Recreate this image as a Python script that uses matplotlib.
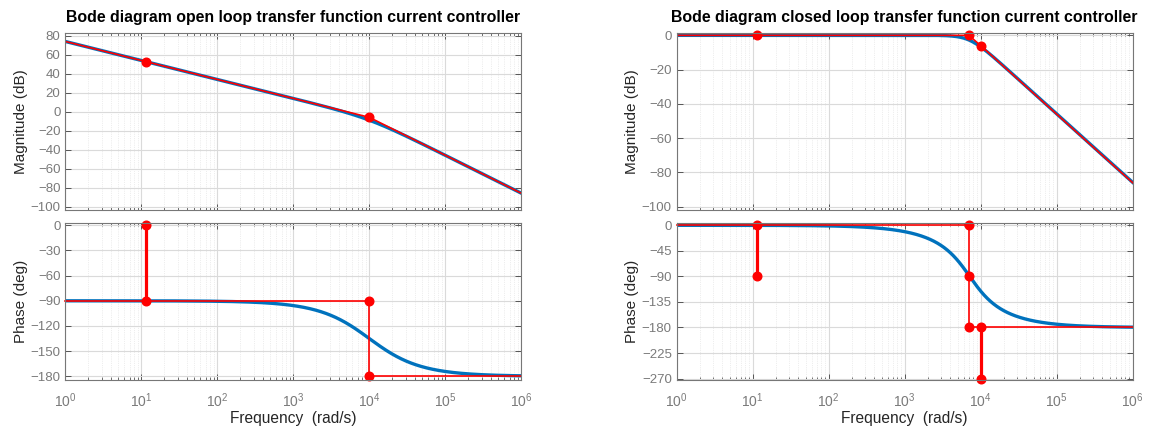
import numpy as np
import matplotlib
matplotlib.use("Agg")
import matplotlib.pyplot as plt
from matplotlib.ticker import (LogLocator, NullFormatter, FixedLocator,
                               LogFormatterSciNotation)

plt.rcParams['font.family'] = ['Liberation Sans', 'DejaVu Sans']

# ---------------- data ----------------
# transfer functions (coefficients of s, highest power first)
open_num = [5129.0]                 # gain ~74.2 dB at 1 rad/s
open_den = [1.0 / 1e4, 1.0, 0.0]    # integrator + pole at 1e4 rad/s
closed_num = [5129.0]
closed_den = [1.0 / 1e4, 1.0, 5129.0]

w_range = [1e0, 1e6]
freq_ticks = [1e0, 1e1, 1e2, 1e3, 1e4, 1e5, 1e6]

# open loop asymptotes (red)
open_mag_asym_w = [1.0, 11.4, 1e4, 1e6]
open_mag_asym_db = [74.2, 53.0, -5.8, -85.8]
open_mag_dot_w = [11.4, 1e4]
open_mag_dot_db = [53.0, -5.8]

open_ph_asym_w = [1.0, 11.4, 1e4, 1e4, 1e6]
open_ph_asym_deg = [-90, -90, -90, -180, -180]
open_ph_thick_w = [[11.4, 11.4]]
open_ph_thick_deg = [[0, -90]]
open_ph_dot_w = [11.4, 11.4, 1e4, 1e4]
open_ph_dot_deg = [0, -90, -90, -180]

# closed loop asymptotes (red)
closed_mag_asym_w = [1.0, 7000.0, 1e4, 1e6]
closed_mag_asym_db = [0.0, 0.0, -6.0, -86.0]
closed_mag_dot_w = [11.4, 7000.0, 1e4]
closed_mag_dot_db = [0.0, 0.0, -6.0]

closed_ph_asym_w = [1.0, 7000.0, 7000.0, 1e6]
closed_ph_asym_deg = [0, 0, -180, -180]
closed_ph_thick_w = [[11.4, 11.4], [1e4, 1e4]]
closed_ph_thick_deg = [[0, -90], [-180, -270]]
closed_ph_dot_w = [11.4, 11.4, 7000.0, 7000.0, 7000.0, 1e4, 1e4]
closed_ph_dot_deg = [0, -90, 0, -90, -180, -180, -270]

# axis ticks / limits
open_mag_ticks = [-100, -80, -60, -40, -20, 0, 20, 40, 60, 80]
open_ph_ticks = [-180, -150, -120, -90, -60, -30, 0]
closed_mag_ticks = [-100, -80, -60, -40, -20, 0]
closed_ph_ticks = [-270, -225, -180, -135, -90, -45, 0]

titles = ["Bode diagram open loop transfer function current controller",
          "Bode diagram closed loop transfer function current controller"]

# ---------------- computation ----------------
w = np.logspace(0, 6, 2000)
def bode(num, den):
    s = 1j * w
    h = np.polyval(num, s) / np.polyval(den, s)
    return 20 * np.log10(np.abs(h)), np.unwrap(np.angle(h)) * 180 / np.pi

open_db, open_ph = bode(open_num, open_den)
closed_db, closed_ph = bode(closed_num, closed_den)

BLUE = '#0072BD'
RED = '#FF0000'
TICKC = '#7a7a7a'
LABC = '#262626'
MS = 6.2

fig = plt.figure(figsize=(11.49, 4.32), dpi=100)

def style(ax, yticks, ylim, ylabel, xlabels=False):
    ax.set_xscale('log')
    ax.set_xlim(*w_range)
    ax.set_ylim(*ylim)
    ax.yaxis.set_major_locator(FixedLocator(yticks))
    ax.xaxis.set_major_locator(FixedLocator(freq_ticks))
    ax.xaxis.set_minor_locator(LogLocator(base=10, subs=np.arange(2, 10), numticks=100))
    ax.xaxis.set_minor_formatter(NullFormatter())
    if xlabels:
        ax.xaxis.set_major_formatter(LogFormatterSciNotation())
    else:
        ax.xaxis.set_major_formatter(NullFormatter())
    ax.grid(True, which='major', color='#dadada', linewidth=0.8, linestyle='-')
    ax.grid(True, which='minor', axis='x', color='#dedede', linewidth=0.5, linestyle=':')
    ax.set_axisbelow(True)
    ax.tick_params(which='both', direction='in', top=True, right=True,
                   colors='#555555', labelcolor=TICKC, labelsize=9.5)
    ax.tick_params(axis='x', which='major', pad=8, labelsize=10)
    ax.tick_params(which='major', length=4, width=0.7)
    ax.tick_params(which='minor', length=2.5, width=0.6)
    for sp in ax.spines.values():
        sp.set_color('#777777')
        sp.set_linewidth(0.8)
    ax.set_ylabel(ylabel, fontsize=11, color=LABC, labelpad=2)

lefts = [65.3 / 1149, 676.7 / 1149]
width = 456 / 1149
mag_b, mag_h = (432 - 210) / 432, 176.7 / 432
ph_b, ph_h = (432 - 380.3) / 432, 157.0 / 432

# -------- open loop --------
axm = fig.add_axes([lefts[0], mag_b, width, mag_h])
axm.plot(w, open_db, color=BLUE, lw=2.4)
axm.plot(open_mag_asym_w, open_mag_asym_db, color=RED, lw=1.2)
axm.plot(open_mag_dot_w, open_mag_dot_db, 'o', color=RED, ms=MS, clip_on=False)
style(axm, open_mag_ticks, (-103.5, 82.8), 'Magnitude (dB)')
axm.set_title(titles[0], fontsize=11.4, fontweight='bold', pad=8)

axp = fig.add_axes([lefts[0], ph_b, width, ph_h])
axp.plot(w, open_ph, color=BLUE, lw=2.4)
axp.plot(open_ph_asym_w, open_ph_asym_deg, color=RED, lw=1.2, clip_on=False)
for xs, ys in zip(open_ph_thick_w, open_ph_thick_deg):
    axp.plot(xs, ys, color=RED, lw=2.3, clip_on=False)
axp.plot(open_ph_dot_w, open_ph_dot_deg, 'o', color=RED, ms=MS, clip_on=False)
style(axp, open_ph_ticks, (-184.8, 2.4), 'Phase (deg)', xlabels=True)
axp.set_xlabel('Frequency  (rad/s)', fontsize=11.2, color=LABC, labelpad=1)

# -------- closed loop --------
axm2 = fig.add_axes([lefts[1], mag_b, width, mag_h])
axm2.plot(w, closed_db, color=BLUE, lw=2.4)
axm2.plot(closed_mag_asym_w, closed_mag_asym_db, color=RED, lw=1.2)
axm2.plot(closed_mag_dot_w, closed_mag_dot_db, 'o', color=RED, ms=MS, clip_on=False)
style(axm2, closed_mag_ticks, (-101.9, 1.2), 'Magnitude (dB)')
axm2.set_title(titles[1], fontsize=11.4, fontweight='bold', pad=8)

axp2 = fig.add_axes([lefts[1], ph_b, width, ph_h])
axp2.plot(w, closed_ph, color=BLUE, lw=2.4)
axp2.plot(closed_ph_asym_w, closed_ph_asym_deg, color=RED, lw=1.2, clip_on=False)
for xs, ys in zip(closed_ph_thick_w, closed_ph_thick_deg):
    axp2.plot(xs, ys, color=RED, lw=2.3, clip_on=False)
axp2.plot(closed_ph_dot_w, closed_ph_dot_deg, 'o', color=RED, ms=MS, clip_on=False)
style(axp2, closed_ph_ticks, (-273.0, 3.5), 'Phase (deg)', xlabels=True)
axp2.set_xlabel('Frequency  (rad/s)', fontsize=11.2, color=LABC, labelpad=1)

fig.savefig('out.png', dpi=100)
